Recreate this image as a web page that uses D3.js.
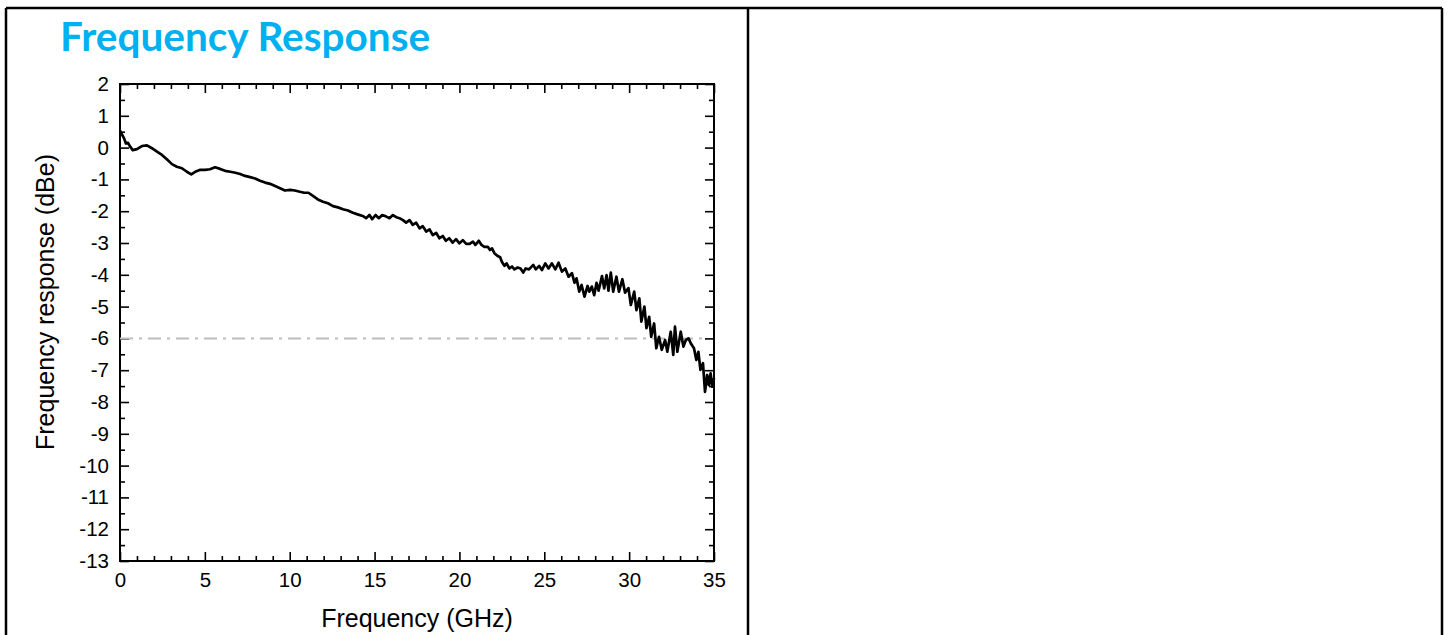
<!DOCTYPE html>
<html>
<head>
<meta charset="utf-8">
<script src="https://cdn.jsdelivr.net/npm/d3@7"></script>
<style>
  html, body { margin: 0; padding: 0; background: #fff; }
  .tick text { font-family: "Liberation Sans", Arial, sans-serif; font-size: 20.5px; fill: #000; }
  .axis path, .axis line { stroke: #000; stroke-width: 1.6; }
  .axisTitle { font-family: "Liberation Sans", Arial, sans-serif; font-size: 25px; fill: #000; }
</style>
</head>
<body>
<svg id="page" width="1450" height="635"></svg>
<script>
var freqGHz = [
  0, 0.24, 0.35, 0.47, 0.6, 0.75, 1.0, 1.29, 1.59, 1.88,
  2.18, 2.47, 2.76, 3.06, 3.35, 3.65, 3.94, 4.2, 4.43, 4.73,
  5.02, 5.3, 5.6, 5.9, 6.19, 6.5, 6.8, 7.08, 7.37, 7.67,
  7.96, 8.25, 8.55, 8.84, 9.14, 9.43, 9.72, 10.02, 10.3, 10.6,
  10.85, 11.1, 11.37, 11.66, 11.96, 12.25, 12.55, 12.84, 13.14, 13.43,
  13.72, 14.0, 14.3, 14.5, 14.7, 14.86, 15.06, 15.25, 15.45, 15.69,
  15.88, 16.08, 16.28, 16.47, 16.67, 16.86, 17.06, 17.25, 17.45, 17.65,
  17.84, 18.04, 18.24, 18.43, 18.63, 18.82, 19.02, 19.2, 19.4, 19.6,
  19.8, 20.0, 20.2, 20.4, 20.6, 20.8, 20.94, 21.14, 21.3, 21.47,
  21.67, 21.8, 21.92, 22.06, 22.25, 22.4, 22.5, 22.65, 22.78, 22.94,
  23.1, 23.24, 23.43, 23.6, 23.76, 23.9, 24.1, 24.35, 24.5, 24.7,
  24.86, 25.06, 25.25, 25.45, 25.65, 25.84, 26.04, 26.24, 26.43, 26.63,
  26.78, 26.9, 27.06, 27.2, 27.37, 27.55, 27.65, 27.8, 27.94, 28.08,
  28.2, 28.4, 28.53, 28.67, 28.78, 28.92, 29.06, 29.25, 29.4, 29.6,
  29.76, 29.96, 30.1, 30.3, 30.43, 30.6, 30.72, 30.9, 31.02, 31.18,
  31.3, 31.47, 31.6, 31.76, 31.92, 32.12, 32.25, 32.45, 32.6, 32.7,
  32.84, 33.04, 33.2, 33.34, 33.5, 33.63, 33.82, 33.96, 34.08, 34.2,
  34.35, 34.47, 34.6, 34.7, 34.8, 34.9, 35.0
];
var responseDb = [
  0.53, 0.29, 0.13, 0.15, 0.03, -0.08, -0.05, 0.05, 0.07, -0.02,
  -0.13, -0.23, -0.37, -0.52, -0.60, -0.65, -0.76, -0.84, -0.76, -0.70,
  -0.70, -0.68, -0.62, -0.67, -0.73, -0.76, -0.79, -0.83, -0.89, -0.93,
  -0.97, -1.04, -1.10, -1.14, -1.21, -1.28, -1.35, -1.33, -1.35, -1.39,
  -1.42, -1.42, -1.52, -1.63, -1.70, -1.75, -1.84, -1.88, -1.94, -1.98,
  -2.05, -2.10, -2.15, -2.22, -2.12, -2.25, -2.12, -2.22, -2.12, -2.17,
  -2.22, -2.12, -2.19, -2.22, -2.28, -2.36, -2.28, -2.43, -2.36, -2.54,
  -2.47, -2.64, -2.57, -2.75, -2.68, -2.85, -2.78, -2.93, -2.85, -2.99,
  -2.88, -3.01, -2.91, -3.03, -3.03, -2.96, -3.06, -2.93, -3.06, -3.12,
  -3.12, -3.22, -3.17, -3.32, -3.41, -3.45, -3.59, -3.72, -3.64, -3.80,
  -3.74, -3.83, -3.77, -3.80, -3.93, -3.80, -3.83, -3.69, -3.83, -3.72,
  -3.85, -3.64, -3.80, -3.64, -3.83, -3.62, -3.90, -3.80, -4.06, -3.95,
  -4.25, -4.11, -4.53, -4.32, -4.69, -4.35, -4.53, -4.37, -4.64, -4.25,
  -4.50, -4.04, -4.43, -4.01, -4.50, -3.93, -4.53, -4.06, -4.53, -4.14,
  -4.56, -4.42, -4.95, -4.53, -5.11, -4.74, -5.47, -5.00, -5.68, -5.32,
  -5.95, -5.53, -6.31, -5.95, -6.36, -6.05, -6.42, -5.79, -6.52, -5.63,
  -6.42, -5.79, -6.26, -6.05, -6.00, -6.15, -6.31, -6.68, -6.42, -6.99,
  -6.78, -7.68, -7.15, -7.47, -7.10, -7.52, -7.25
];

var xTicks = [0, 5, 10, 15, 20, 25, 30, 35];
var yTicks = [2, 1, 0, -1, -2, -3, -4, -5, -6, -7, -8, -9, -10, -11, -12, -13];
var refLevel = [-6];          // -6 dB reference line
var refSpan = [0, 34.5];      // where the dash-dot line runs

var svg = d3.select('#page');

// table borders around the chart cell
var borders = [
  [6, 8, 1442, 8],
  [6, 8, 6, 635],
  [748, 8, 748, 635],
  [1442, 8, 1442, 635]
];
svg.selectAll('line.border')
  .data(borders)
  .enter().append('line')
    .attr('class', 'border')
    .attr('x1', d => d[0]).attr('y1', d => d[1])
    .attr('x2', d => d[2]).attr('y2', d => d[3])
    .attr('stroke', '#000')
    .attr('stroke-width', 2.5);

svg.append('text')
  .attr('x', 60)
  .attr('y', 51)
  .style('font-family', 'Lato, "Open Sans", sans-serif')
  .style('font-weight', 700)
  .style('font-size', '40.5px')
  .style('fill', '#00b0f0')
  .text('Frequency Response');

// plot box
var box = { left: 120, right: 714, top: 84, bottom: 561 };

var x = d3.scaleLinear().domain([0, 35]).range([box.left, box.right]);
var y = d3.scaleLinear().domain([-13, 2]).range([box.bottom, box.top]);

var minorX = d3.range(0, 36, 1).filter(v => v % 5 != 0);
var minorY = d3.range(-12.5, 2, 1);

// plain hyphen for negatives, like the original
var fmt = v => String(v);

function drawAxis(axisFn, transform, values, size, labels){
  var g = svg.append('g')
    .attr('class', 'axis')
    .attr('transform', transform)
    .call(axisFn
      .tickValues(values)
      .tickSize(-size)
      .tickPadding(labels ? 11 : 0)
      .tickFormat(labels ? fmt : ''));
  g.select('.domain').remove();
  return g;
}

// major + minor ticks, pointing inward on all four sides
drawAxis(d3.axisBottom(x), 'translate(0,' + box.bottom + ')', xTicks, 9, true);
drawAxis(d3.axisBottom(x), 'translate(0,' + box.bottom + ')', minorX, 5, false);
drawAxis(d3.axisTop(x), 'translate(0,' + box.top + ')', xTicks, 9, false);
drawAxis(d3.axisTop(x), 'translate(0,' + box.top + ')', minorX, 5, false);
drawAxis(d3.axisLeft(y), 'translate(' + box.left + ',0)', yTicks, 9, true);
drawAxis(d3.axisLeft(y), 'translate(' + box.left + ',0)', minorY, 5, false);
drawAxis(d3.axisRight(y), 'translate(' + box.right + ',0)', yTicks, 9, false);
drawAxis(d3.axisRight(y), 'translate(' + box.right + ',0)', minorY, 5, false);

svg.append('rect')
  .attr('x', box.left)
  .attr('y', box.top)
  .attr('width', box.right - box.left)
  .attr('height', box.bottom - box.top)
  .attr('fill', 'none')
  .attr('stroke', '#000')
  .attr('stroke-width', 2);

// -6 dB dash-dot line
svg.selectAll('line.ref')
  .data(refLevel)
  .enter().append('line')
    .attr('class', 'ref')
    .attr('x1', x(refSpan[0]))
    .attr('x2', x(refSpan[1]))
    .attr('y1', d => y(d))
    .attr('y2', d => y(d))
    .attr('stroke', '#bdbdbd')
    .attr('stroke-width', 2)
    .attr('stroke-dasharray', '13,6,3,6');

var points = freqGHz.map((f, i) => [f, responseDb[i]]);

svg.append('path')
  .datum(points)
  .attr('fill', 'none')
  .attr('stroke', '#000')
  .attr('stroke-width', 2.7)
  .attr('stroke-linejoin', 'round')
  .attr('d', d3.line().x(d => x(d[0])).y(d => y(d[1])));

// axis titles
svg.append('text')
  .attr('class', 'axisTitle')
  .attr('x', (box.left + box.right) / 2)
  .attr('y', 627)
  .attr('text-anchor', 'middle')
  .text('Frequency (GHz)');

svg.append('text')
  .attr('class', 'axisTitle')
  .attr('transform', 'translate(54,302) rotate(-90)')
  .attr('text-anchor', 'middle')
  .text('Frequency response (dBe)');
</script>
</body>
</html>
